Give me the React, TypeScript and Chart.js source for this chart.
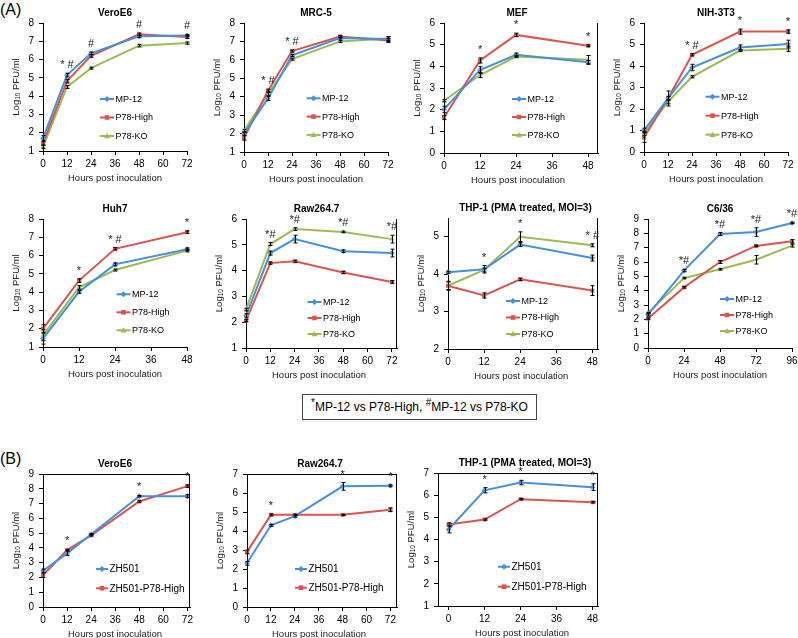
import React, { useEffect, useRef } from "react";
import { Chart, registerables } from "chart.js";
Chart.register(...registerables);

const FONT = "'Liberation Sans', Arial, Helvetica, sans-serif";
const BLUE = "#4a8fd8";
const RED = "#d65752";
const GREEN = "#9bbb59";

// ---------- DATA (Log10 PFU/ml) ----------
// (A) VeroE6
const veroA_hours = [0, 12, 24, 48, 72];
const veroA_mp12 = [1.69, 5.15, 6.34, 7.27, 7.32];
const veroA_mp12Err = [0.15, 0.1, 0.07, 0.07, 0.06];
const veroA_high = [1.42, 4.82, 6.2, 7.38, 7.23];
const veroA_highErr = [0.12, 0.1, 0.07, 0.07, 0.08];
const veroA_ko = [1.24, 4.5, 5.53, 6.76, 6.9];
const veroA_koErr = [0.1, 0.08, 0.05, 0.07, 0.06];
const veroA_marks = ["", "* #", "#", "#", "#"];
const veroA_xTicks = [0, 12, 24, 36, 48, 60, 72];
const veroA_yTicks = [1, 2, 3, 4, 5, 6, 7, 8];

// (A) MRC-5
const mrcA_hours = [0, 12, 24, 48, 72];
const mrcA_mp12 = [2.0, 3.91, 6.24, 7.18, 7.13];
const mrcA_mp12Err = [0.1, 0.12, 0.06, 0.05, 0.12];
const mrcA_high = [1.76, 4.33, 6.48, 7.27, 7.05];
const mrcA_highErr = [0.12, 0.08, 0.05, 0.05, 0.1];
const mrcA_ko = [2.15, 4.15, 6.04, 7.0, 7.16];
const mrcA_koErr = [0.08, 0.1, 0.05, 0.05, 0.1];
const mrcA_marks = ["", "* #", "* #", "", ""];
const mrcA_xTicks = [0, 12, 24, 36, 48, 60, 72];
const mrcA_yTicks = [1, 2, 3, 4, 5, 6, 7, 8];

// (A) MEF
const mefA_hours = [0, 12, 24, 48];
const mefA_mp12 = [2.01, 3.83, 4.53, 4.19];
const mefA_mp12Err = [0.15, 0.15, 0.08, 0.08];
const mefA_high = [1.64, 4.27, 5.45, 4.95];
const mefA_highErr = [0.1, 0.12, 0.08, 0.04];
const mefA_ko = [2.41, 3.6, 4.45, 4.3];
const mefA_koErr = [0.05, 0.12, 0.05, 0.2];
const mefA_marks = ["", "*", "*", "*"];
const mefA_xTicks = [0, 12, 24, 36, 48];
const mefA_yTicks = [0, 1, 2, 3, 4, 5, 6];

// (A) NIH-3T3
const nihA_hours = [0, 12, 24, 48, 72];
const nihA_mp12 = [1.01, 2.49, 3.93, 4.86, 5.02];
const nihA_mp12Err = [0.1, 0.35, 0.15, 0.12, 0.18];
const nihA_high = [0.67, 2.49, 4.52, 5.6, 5.6];
const nihA_highErr = [0.22, 0.1, 0.05, 0.12, 0.08];
const nihA_ko = [0.86, 2.34, 3.5, 4.72, 4.8];
const nihA_koErr = [0.1, 0.1, 0.05, 0.05, 0.12];
const nihA_marks = ["", "", "* #", "*", "*"];
const nihA_xTicks = [0, 12, 24, 36, 48, 60, 72];
const nihA_yTicks = [0, 1, 2, 3, 4, 5, 6];

// (A) Huh7
const huhA_hours = [0, 12, 24, 48];
const huhA_mp12 = [1.46, 4.02, 5.52, 6.35];
const huhA_mp12Err = [0.3, 0.08, 0.08, 0.07];
const huhA_high = [2.01, 4.63, 6.37, 7.28];
const huhA_highErr = [0.2, 0.1, 0.06, 0.07];
const huhA_ko = [1.64, 4.26, 5.21, 6.27];
const huhA_koErr = [0.3, 0.1, 0.05, 0.07];
const huhA_marks = ["", "*", "* #", "*"];
const huhA_xTicks = [0, 12, 24, 36, 48];
const huhA_yTicks = [1, 2, 3, 4, 5, 6, 7, 8];

// (A) Raw264.7
const rawA_hours = [0, 12, 24, 48, 72];
const rawA_mp12 = [2.25, 4.68, 5.22, 4.75, 4.68];
const rawA_mp12Err = [0.08, 0.08, 0.15, 0.05, 0.15];
const rawA_high = [2.06, 4.29, 4.36, 3.93, 3.56];
const rawA_highErr = [0.04, 0.04, 0.04, 0.04, 0.05];
const rawA_ko = [2.49, 5.03, 5.61, 5.5, 5.22];
const rawA_koErr = [0.05, 0.06, 0.05, 0.03, 0.15];
const rawA_marks = ["", "*#", "*#", "*#", "*#"];
const rawA_xTicks = [0, 12, 24, 36, 48, 60, 72];
const rawA_yTicks = [1, 2, 3, 4, 5, 6];

// (A) THP-1 (PMA treated, MOI=3)
const thpA_hours = [0, 12, 24, 48];
const thpA_mp12 = [4.05, 4.13, 4.79, 4.43];
const thpA_mp12Err = [0.03, 0.1, 0.05, 0.08];
const thpA_high = [3.69, 3.43, 3.86, 3.56];
const thpA_highErr = [0.12, 0.07, 0.03, 0.13];
const thpA_ko = [3.69, 4.11, 5.0, 4.77];
const thpA_koErr = [0.1, 0.05, 0.13, 0.04];
const thpA_marks = ["", "*", "*", "* #"];
const thpA_xTicks = [0, 12, 24, 36, 48];
const thpA_yTicks = [2, 3, 4, 5];

// (A) C6/36
const c6A_hours = [0, 24, 48, 72, 96];
const c6A_mp12 = [2.33, 5.4, 7.95, 8.09, 8.72];
const c6A_mp12Err = [0.1, 0.08, 0.1, 0.3, 0.05];
const c6A_high = [2.05, 4.23, 6.0, 7.12, 7.44];
const c6A_highErr = [0.05, 0.05, 0.1, 0.05, 0.12];
const c6A_ko = [2.44, 4.88, 5.49, 6.16, 7.14];
const c6A_koErr = [0.05, 0.05, 0.05, 0.3, 0.1];
const c6A_marks = ["", "*#", "*#", "*#", "*#"];
const c6A_xTicks = [0, 24, 48, 72, 96];
const c6A_yTicks = [0, 1, 2, 3, 4, 5, 6, 7, 8, 9];

// (B) VeroE6
const veroB_hours = [0, 12, 24, 48, 72];
const veroB_zh = [2.45, 3.63, 4.92, 7.5, 7.5];
const veroB_zhErr = [0.12, 0.15, 0.05, 0.05, 0.1];
const veroB_high = [2.15, 3.85, 4.85, 7.14, 8.18];
const veroB_highErr = [0.15, 0.05, 0.05, 0.05, 0.08];
const veroB_marks = ["", "*", "", "*", "*"];
const veroB_xTicks = [0, 12, 24, 36, 48, 60, 72];
const veroB_yTicks = [0, 1, 2, 3, 4, 5, 6, 7, 8, 9];

// (B) Raw264.7
const rawB_hours = [0, 12, 24, 48, 72];
const rawB_zh = [2.3, 4.3, 4.78, 6.35, 6.38];
const rawB_zhErr = [0.1, 0.05, 0.05, 0.2, 0.05];
const rawB_high = [2.9, 4.85, 4.85, 4.85, 5.12];
const rawB_highErr = [0.1, 0.05, 0.03, 0.03, 0.1];
const rawB_marks = ["", "*", "", "*", "*"];
const rawB_xTicks = [0, 12, 24, 36, 48, 60, 72];
const rawB_yTicks = [0, 1, 2, 3, 4, 5, 6, 7];

// (B) THP-1 (PMA treated, MOI=3)
const thpB_hours = [0, 12, 24, 48];
const thpB_zh = [4.45, 6.22, 6.57, 6.36];
const thpB_zhErr = [0.15, 0.12, 0.1, 0.15];
const thpB_high = [4.68, 4.9, 5.82, 5.68];
const thpB_highErr = [0.07, 0.03, 0.03, 0.03];
const thpB_marks = ["", "*", "*", "*"];
const thpB_xTicks = [0, 12, 24, 36, 48];
const thpB_yTicks = [1, 2, 3, 4, 5, 6, 7];

// ---------- TYPES / HELPERS ----------
type Series = { label: string; color: string; point: string; values: number[]; errors: number[] };
type Panel = {
  title: string; titleDx: number; xTitleDx: number;
  left: number; top: number; right: number; bottom: number;
  xMin: number; xMax: number; yMax: number; xTicks: number[]; yTicks: number[];
  hours: number[]; series: Series[]; marks: string[];
  legendDx: number; legendDy: number; legendGap: number; legendFont: number; legendLine: number;
  frame: "none" | "right" | "box";
};

const three = (a: number[], ae: number[], b: number[], be: number[], c: number[], ce: number[]): Series[] => [
  { label: "MP-12", color: BLUE, point: "rectRot", values: a, errors: ae },
  { label: "P78-High", color: RED, point: "rect", values: b, errors: be },
  { label: "P78-KO", color: GREEN, point: "triangle", values: c, errors: ce },
];
const two = (a: number[], ae: number[], b: number[], be: number[]): Series[] => [
  { label: "ZH501", color: BLUE, point: "rectRot", values: a, errors: ae },
  { label: "ZH501-P78-High", color: RED, point: "rect", values: b, errors: be },
];

const THP_TITLE = "THP-1 (PMA treated, MOI=3)";
const last = (a: number[]) => a[a.length - 1];

const panels: Panel[] = [
  { title: "VeroE6", titleDx: 0, xTitleDx: 0, left: 43, top: 23, right: 187, bottom: 151, xMin: 0, xMax: 72, yMax: last(veroA_yTicks), xTicks: veroA_xTicks, yTicks: veroA_yTicks,
    hours: veroA_hours, series: three(veroA_mp12, veroA_mp12Err, veroA_high, veroA_highErr, veroA_ko, veroA_koErr), marks: veroA_marks,
    legendDx: 57, legendDy: 76, legendGap: 18.5, legendFont: 9, legendLine: 14, frame: "none" },
  { title: "MRC-5", titleDx: 0, xTitleDx: 0, left: 244, top: 23, right: 388, bottom: 152, xMin: 0, xMax: 72, yMax: last(mrcA_yTicks), xTicks: mrcA_xTicks, yTicks: mrcA_yTicks,
    hours: mrcA_hours, series: three(mrcA_mp12, mrcA_mp12Err, mrcA_high, mrcA_highErr, mrcA_ko, mrcA_koErr), marks: mrcA_marks,
    legendDx: 62.5, legendDy: 75.3, legendGap: 18.3, legendFont: 9, legendLine: 14, frame: "none" },
  { title: "MEF", titleDx: -4, xTitleDx: -3, left: 444, top: 23, right: 598, bottom: 153, xMin: 0, xMax: 51.3, yMax: last(mefA_yTicks), xTicks: mefA_xTicks, yTicks: mefA_yTicks,
    hours: mefA_hours, series: three(mefA_mp12, mefA_mp12Err, mefA_high, mefA_highErr, mefA_ko, mefA_koErr), marks: mefA_marks,
    legendDx: 68, legendDy: 76, legendGap: 18, legendFont: 9, legendLine: 14, frame: "right" },
  { title: "NIH-3T3", titleDx: 0, xTitleDx: 0, left: 644, top: 23, right: 788, bottom: 152, xMin: 0, xMax: 72, yMax: last(nihA_yTicks), xTicks: nihA_xTicks, yTicks: nihA_yTicks,
    hours: nihA_hours, series: three(nihA_mp12, nihA_mp12Err, nihA_high, nihA_highErr, nihA_ko, nihA_koErr), marks: nihA_marks,
    legendDx: 61.5, legendDy: 73.7, legendGap: 19, legendFont: 9, legendLine: 14, frame: "none" },
  { title: "Huh7", titleDx: 0, xTitleDx: 0, left: 43, top: 219, right: 187, bottom: 347, xMin: 0, xMax: 48, yMax: last(huhA_yTicks), xTicks: huhA_xTicks, yTicks: huhA_yTicks,
    hours: huhA_hours, series: three(huhA_mp12, huhA_mp12Err, huhA_high, huhA_highErr, huhA_ko, huhA_koErr), marks: huhA_marks,
    legendDx: 73.5, legendDy: 75.3, legendGap: 18, legendFont: 9, legendLine: 14, frame: "none" },
  { title: "Raw264.7", titleDx: -5, xTitleDx: -2.5, left: 246, top: 219, right: 397, bottom: 348, xMin: 0, xMax: 74.5, yMax: last(rawA_yTicks), xTicks: rawA_xTicks, yTicks: rawA_yTicks,
    hours: rawA_hours, series: three(rawA_mp12, rawA_mp12Err, rawA_high, rawA_highErr, rawA_ko, rawA_koErr), marks: rawA_marks,
    legendDx: 61.5, legendDy: 83, legendGap: 16, legendFont: 9, legendLine: 14, frame: "right" },
  { title: THP_TITLE, titleDx: 2.5, xTitleDx: -1.7, left: 448, top: 218, right: 598, bottom: 349, xMin: 0, xMax: 49.9, yMax: 5.5, xTicks: thpA_xTicks, yTicks: thpA_yTicks,
    hours: thpA_hours, series: three(thpA_mp12, thpA_mp12Err, thpA_high, thpA_highErr, thpA_ko, thpA_koErr), marks: thpA_marks,
    legendDx: 58, legendDy: 83, legendGap: 16.5, legendFont: 9, legendLine: 14, frame: "right" },
  { title: "C6/36", titleDx: 0, xTitleDx: 0, left: 648, top: 219, right: 792, bottom: 348, xMin: 0, xMax: 96, yMax: last(c6A_yTicks), xTicks: c6A_xTicks, yTicks: c6A_yTicks,
    hours: c6A_hours, series: three(c6A_mp12, c6A_mp12Err, c6A_high, c6A_highErr, c6A_ko, c6A_koErr), marks: c6A_marks,
    legendDx: 72, legendDy: 80, legendGap: 16, legendFont: 9, legendLine: 14, frame: "none" },
  { title: "VeroE6", titleDx: -1.5, xTitleDx: -1.5, left: 43, top: 474, right: 190, bottom: 607, xMin: 0, xMax: 73.3, yMax: last(veroB_yTicks), xTicks: veroB_xTicks, yTicks: veroB_yTicks,
    hours: veroB_hours, series: two(veroB_zh, veroB_zhErr, veroB_high, veroB_highErr), marks: veroB_marks,
    legendDx: 53, legendDy: 95, legendGap: 19.3, legendFont: 10, legendLine: 12, frame: "box" },
  { title: "Raw264.7", titleDx: -2, xTitleDx: -3, left: 247, top: 474, right: 397, bottom: 607, xMin: 0, xMax: 75.3, yMax: last(rawB_yTicks), xTicks: rawB_xTicks, yTicks: rawB_yTicks,
    hours: rawB_hours, series: two(rawB_zh, rawB_zhErr, rawB_high, rawB_highErr), marks: rawB_marks,
    legendDx: 48, legendDy: 95, legendGap: 18.7, legendFont: 10, legendLine: 12, frame: "box" },
  { title: THP_TITLE, titleDx: 7, xTitleDx: 4, left: 438, top: 473, right: 598, bottom: 606, xMin: -3.5, xMax: 49.8, yMax: last(thpB_yTicks), xTicks: thpB_xTicks, yTicks: thpB_yTicks,
    hours: thpB_hours, series: two(thpB_zh, thpB_zhErr, thpB_high, thpB_highErr), marks: thpB_marks,
    legendDx: 60, legendDy: 93.7, legendGap: 20, legendFont: 10, legendLine: 12, frame: "box" },
];

const ML = 46, MT = 26, MR = 12, MB = 38;

function drawMarker(ctx: CanvasRenderingContext2D, style: string, x: number, y: number, color: string) {
  ctx.fillStyle = color;
  ctx.beginPath();
  if (style === "rectRot") {
    const r = 3;
    ctx.moveTo(x, y - r); ctx.lineTo(x + r, y); ctx.lineTo(x, y + r); ctx.lineTo(x - r, y);
  } else if (style === "rect") {
    ctx.rect(x - 2.3, y - 2.3, 4.6, 4.6);
  } else {
    ctx.moveTo(x, y - 3); ctx.lineTo(x + 3, y + 2.2); ctx.lineTo(x - 3, y + 2.2);
  }
  ctx.closePath();
  ctx.fill();
}

function makeDeco(p: Panel) {
  return {
    id: "deco",
    afterDraw(chart: any) {
      const ctx: CanvasRenderingContext2D = chart.ctx;
      const ca = chart.chartArea;
      const xs = chart.scales.x, ys = chart.scales.y;
      ctx.save();
      // plot-area frame
      const L = Math.round(ca.left), T = Math.round(ca.top), R = Math.round(ca.right), B = Math.round(ca.bottom);
      ctx.fillStyle = "#000";
      if (p.frame === "box") ctx.fillRect(L, T, R - L, 1);
      if (p.frame !== "none") ctx.fillRect(R - 1, T, 1, B - T);
      // error bars
      ctx.strokeStyle = "#000";
      ctx.lineWidth = 1;
      p.series.forEach((s) => {
        s.values.forEach((v, i) => {
          const e = s.errors[i];
          if (!e) return;
          const px = Math.round(xs.getPixelForValue(p.hours[i])) + 0.5;
          const y1 = ys.getPixelForValue(v + e);
          const y2 = ys.getPixelForValue(v - e);
          ctx.beginPath();
          ctx.moveTo(px, y1); ctx.lineTo(px, y2);
          ctx.moveTo(px - 2, y1); ctx.lineTo(px + 2, y1);
          ctx.moveTo(px - 2, y2); ctx.lineTo(px + 2, y2);
          ctx.stroke();
        });
      });
      // significance marks
      ctx.fillStyle = "#222";
      ctx.font = `11px ${FONT}`;
      ctx.textAlign = "center";
      ctx.textBaseline = "middle";
      p.marks.forEach((m, i) => {
        if (!m) return;
        let top = -Infinity;
        p.series.forEach((s) => { top = Math.max(top, s.values[i] + (s.errors[i] || 0)); });
        const px = xs.getPixelForValue(p.hours[i]);
        ctx.fillText(m, px, ys.getPixelForValue(top) - 8);
      });
      // title
      ctx.fillStyle = "#000";
      ctx.font = `bold 10px ${FONT}`;
      ctx.fillText(p.title, (ca.left + ca.right) / 2 + p.titleDx, ca.top - 10);
      // x title
      ctx.fillStyle = "#222";
      ctx.font = `9.5px ${FONT}`;
      ctx.fillText("Hours post inoculation", (ca.left + ca.right) / 2 + p.xTitleDx, ca.bottom + 27);
      // y title with subscript
      ctx.translate(ca.left - 27, (ca.top + ca.bottom) / 2);
      ctx.rotate(-Math.PI / 2);
      ctx.textAlign = "left";
      const big = `9.5px ${FONT}`, small = `6.5px ${FONT}`;
      ctx.font = big; const w1 = ctx.measureText("Log").width;
      ctx.font = small; const w2 = ctx.measureText("10").width;
      ctx.font = big; const w3 = ctx.measureText(" PFU/ml").width;
      let x0 = -(w1 + w2 + w3) / 2;
      ctx.font = big; ctx.fillText("Log", x0, 0); x0 += w1;
      ctx.font = small; ctx.fillText("10", x0, 2.5); x0 += w2;
      ctx.font = big; ctx.fillText(" PFU/ml", x0, 0);
      ctx.restore();
      // legend
      ctx.save();
      ctx.font = `${p.legendFont}px ${FONT}`;
      ctx.textBaseline = "middle";
      ctx.textAlign = "left";
      p.series.forEach((s, i) => {
        const lx = ca.left + p.legendDx;
        const ly = ca.top + p.legendDy + i * p.legendGap;
        ctx.strokeStyle = s.color;
        ctx.lineWidth = 2;
        ctx.beginPath(); ctx.moveTo(lx, ly); ctx.lineTo(lx + p.legendLine, ly); ctx.stroke();
        drawMarker(ctx, s.point, lx + p.legendLine / 2, ly, s.color);
        ctx.fillStyle = "#000";
        ctx.fillText(s.label, lx + p.legendLine + 1.5, ly + 0.5);
      });
      ctx.restore();
    },
  };
}

function PanelChart({ p }: { p: Panel }) {
  const ref = useRef<HTMLCanvasElement>(null);
  const w = p.right - p.left + ML + MR;
  const h = p.bottom - p.top + MT + MB;
  useEffect(() => {
    const tickFont = { family: FONT, size: 10 };
    const chart = new Chart(ref.current as HTMLCanvasElement, {
      type: "line",
      data: {
        datasets: p.series.map((s) => ({
          label: s.label,
          data: p.hours.map((hr, i) => ({ x: hr, y: s.values[i] })),
          borderColor: s.color,
          backgroundColor: s.color,
          borderWidth: 2,
          pointStyle: s.point,
          pointRadius: 2.8,
          pointBorderWidth: 0,
          tension: 0,
          clip: false,
        })),
      },
      options: {
        animation: false,
        responsive: false,
        devicePixelRatio: 1,
        layout: { padding: { left: 0, top: MT, right: MR, bottom: 0 } },
        plugins: {
          legend: { display: false },
          tooltip: { enabled: false },
          title: { display: false },
        },
        scales: {
          x: {
            type: "linear",
            min: p.xMin,
            max: p.xMax,
            afterBuildTicks: (sc: any) => { sc.ticks = p.xTicks.map((v) => ({ value: v })); },
            afterFit: (sc: any) => { sc.height = MB; },
            ticks: { color: "#000", font: tickFont, padding: 3, autoSkip: false, maxRotation: 0 },
            grid: { drawOnChartArea: false, drawTicks: true, tickLength: 4, color: "#000" },
            border: { color: "#000", width: 1 },
          },
          y: {
            type: "linear",
            min: p.yTicks[0],
            max: p.yMax,
            afterBuildTicks: (sc: any) => { sc.ticks = p.yTicks.map((v) => ({ value: v })); },
            afterFit: (sc: any) => { sc.width = ML; },
            ticks: { color: "#000", font: tickFont, padding: 5, autoSkip: false },
            grid: { drawOnChartArea: false, drawTicks: true, tickLength: 4, color: "#000" },
            border: { color: "#000", width: 1 },
          },
        },
      },
      plugins: [makeDeco(p) as any],
    });
    return () => chart.destroy();
  }, []);
  return (
    <canvas
      ref={ref}
      width={w}
      height={h}
      style={{ position: "absolute", left: p.left - ML, top: p.top - MT, width: w, height: h }}
    />
  );
}

export default function App() {
  return (
    <div style={{ position: "absolute", left: 0, top: 0, width: 798, height: 638, background: "#fff", overflow: "hidden", fontFamily: FONT }}>
      <div style={{ position: "absolute", left: 0, top: 0, fontSize: 16, lineHeight: "19px", color: "#000" }}>(A)</div>
      <div style={{ position: "absolute", left: 0, top: 449, fontSize: 16, lineHeight: "19px", color: "#000" }}>(B)</div>
      {panels.map((p, i) => <PanelChart key={i} p={p} />)}
      <div
        style={{
          position: "absolute", left: 302, top: 394, width: 235, height: 26, boxSizing: "border-box",
          border: "1px solid #444", fontSize: 12, lineHeight: "24px", textAlign: "center", color: "#000", whiteSpace: "nowrap",
        }}
      >
        <sup style={{ fontSize: 10, lineHeight: 0 }}>*</sup>MP-12 vs P78-High, <sup style={{ fontSize: 10, lineHeight: 0 }}>#</sup>MP-12 vs P78-KO
      </div>
    </div>
  );
}
